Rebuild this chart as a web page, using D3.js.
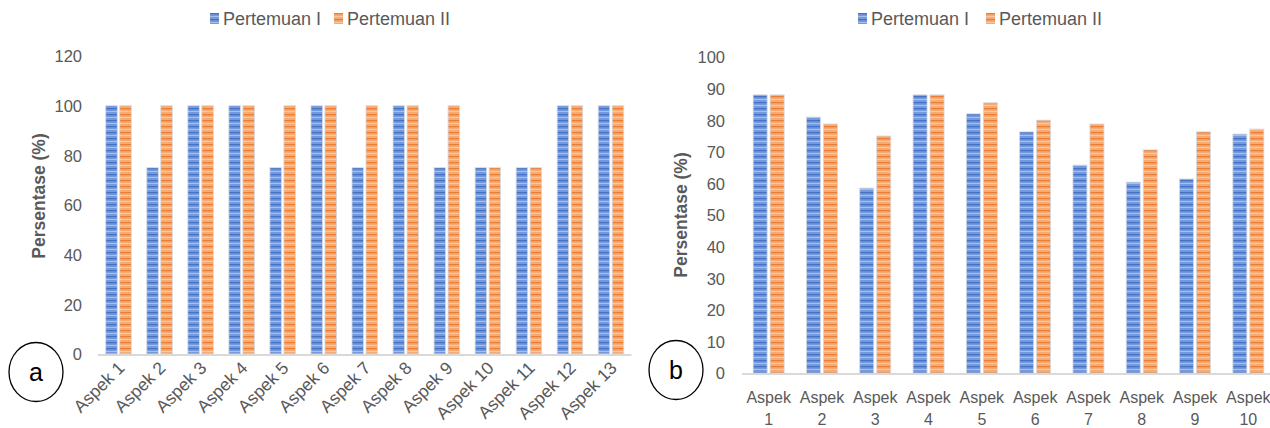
<!DOCTYPE html>
<html><head><meta charset="utf-8">
<script src="https://cdn.jsdelivr.net/npm/d3@7"></script>
<style>body{margin:0;background:#fff;overflow:hidden}svg{display:block;font-family:"Liberation Sans",Arial,sans-serif}</style>
</head><body><svg id="c" width="1270" height="428"></svg>
<script>
const seriesNames = ["Pertemuan I", "Pertemuan II"];
const catsA = ["Aspek 1","Aspek 2","Aspek 3","Aspek 4","Aspek 5","Aspek 6","Aspek 7","Aspek 8","Aspek 9","Aspek 10","Aspek 11","Aspek 12","Aspek 13"];
const a1 = [100,75,100,100,75,100,75,100,75,75,75,100,100];
const a2 = [100,100,100,100,100,100,100,100,100,75,75,100,100];
const ticksA = [0,20,40,60,80,100,120];
const catsB = ["Aspek 1","Aspek 2","Aspek 3","Aspek 4","Aspek 5","Aspek 6","Aspek 7","Aspek 8","Aspek 9","Aspek 10"];
const b1 = [88,81,58.5,88,82,76.3,65.8,60.4,61.4,75.6];
const b2 = [88,78.8,75,88,85.5,80,78.8,70.6,76.3,77.2];
const ticksB = [0,10,20,30,40,50,60,70,80,90,100];

const svg = d3.select("#c");
const defs = svg.append("defs");
function pat(id, base, dark, light){
  const p = defs.append("pattern").attr("id",id).attr("patternUnits","userSpaceOnUse").attr("width",20).attr("height",6);
  p.append("rect").attr("width",20).attr("height",6).attr("fill",base);
  p.append("rect").attr("y",0).attr("width",20).attr("height",1.3).attr("fill",dark);
  p.append("rect").attr("y",3).attr("width",20).attr("height",1).attr("fill",light);
}
pat("pb","#7599dd","#4472c4","#a8bfea");
pat("po","#f5ab76","#ed7d31","#f9c8a3");
const fills = ["url(#pb)","url(#po)"];
const txt = "#595959";

function chart(o){
  const x = d3.scaleBand().domain(o.cats).range([o.x0,o.x1]);
  const y = d3.scaleLinear().domain([0,o.ymax]).range([o.y0,o.y1]);
  const g = svg.append("g");
  g.append("g").attr("transform",`translate(${o.tickX},0)`)
    .call(d3.axisLeft(y).tickValues(o.ticks).tickSize(0).tickPadding(0))
    .call(s=>{s.select(".domain").remove();s.selectAll("text").attr("fill",txt).attr("dy","0.36em").style("font-size","16.5px").style("font-family","Liberation Sans, Arial");});
  const data = [o.s1,o.s2];
  data.forEach((vals,si)=>{
    g.selectAll(null).data(o.cats).enter().append("rect")
      .attr("x",d=>x(d)+x.bandwidth()/2 + (si===0 ? -o.gap/2-o.bw : o.gap/2))
      .attr("width",o.bw)
      .attr("y",(d,i)=>y(vals[i]))
      .attr("height",(d,i)=>y(0)-y(vals[i]))
      .attr("fill",fills[si])
      .attr("stroke","#d4d8e0").attr("stroke-width",0.8);
  });
  g.append("line").attr("x1",o.x0).attr("x2",o.x1).attr("y1",y(0)+1).attr("y2",y(0)+1).attr("stroke","#d9d9d9").attr("stroke-width",2);
  if(o.rot){
    g.selectAll(null).data(o.cats).enter().append("text")
      .attr("transform",d=>`translate(${x(d)+x.bandwidth()/2+7},${y(0)+15}) rotate(-45)`)
      .attr("text-anchor","end").attr("fill",txt).style("font-size","17.5px").text(d=>d);
  } else {
    const t = g.selectAll(null).data(o.cats).enter().append("text")
      .attr("text-anchor","middle").attr("fill",txt).style("font-size","16px");
    t.append("tspan").attr("x",d=>x(d)+x.bandwidth()/2).attr("y",y(0)+30).text(d=>d.split(" ")[0]);
    t.append("tspan").attr("x",d=>x(d)+x.bandwidth()/2).attr("y",y(0)+52).text(d=>d.split(" ")[1]);
  }
  g.append("text").attr("transform",`translate(${o.titleX},${o.titleY}) rotate(-90)`)
    .attr("text-anchor","middle").attr("fill",txt).style("font-size","17.5px").style("font-weight","bold").text("Persentase (%)");
  const lg = g.append("g").attr("transform",`translate(${o.legX},${o.legY})`);
  seriesNames.forEach((n,i)=>{
    const ox = i===0?0:o.legStep;
    lg.append("rect").attr("x",ox).attr("y",-12).attr("width",9).attr("height",11).attr("fill",fills[i]);
    lg.append("text").attr("x",ox+13).attr("y",0).attr("fill",txt).style("font-size","18px").text(n);
  });
  g.append("ellipse").attr("cx",o.ex).attr("cy",o.ey).attr("rx",27).attr("ry",29.5).attr("fill","#fff").attr("stroke","#000").attr("stroke-width",1.3);
  g.append("text").attr("x",o.ex).attr("y",o.ey+9).attr("text-anchor","middle").attr("fill","#000").style("font-size","25px").text(o.lab);
}

chart({cats:catsA,s1:a1,s2:a2,ticks:ticksA,ymax:120,x0:98,x1:631.5,y0:354,y1:56,bw:11.5,gap:2.5,tickX:82,rot:true,
  titleX:45,titleY:196,legX:210,legY:25,legStep:124,ex:36,ey:372,lab:"a"});
chart({cats:catsB,s1:b1,s2:b2,ticks:ticksB,ymax:100,x0:742,x1:1275,y0:373,y1:57,bw:14,gap:3,tickX:725,rot:false,
  titleX:687,titleY:215,legX:858,legY:25,legStep:128,ex:676,ey:370,lab:"b"});
</script></body></html>
